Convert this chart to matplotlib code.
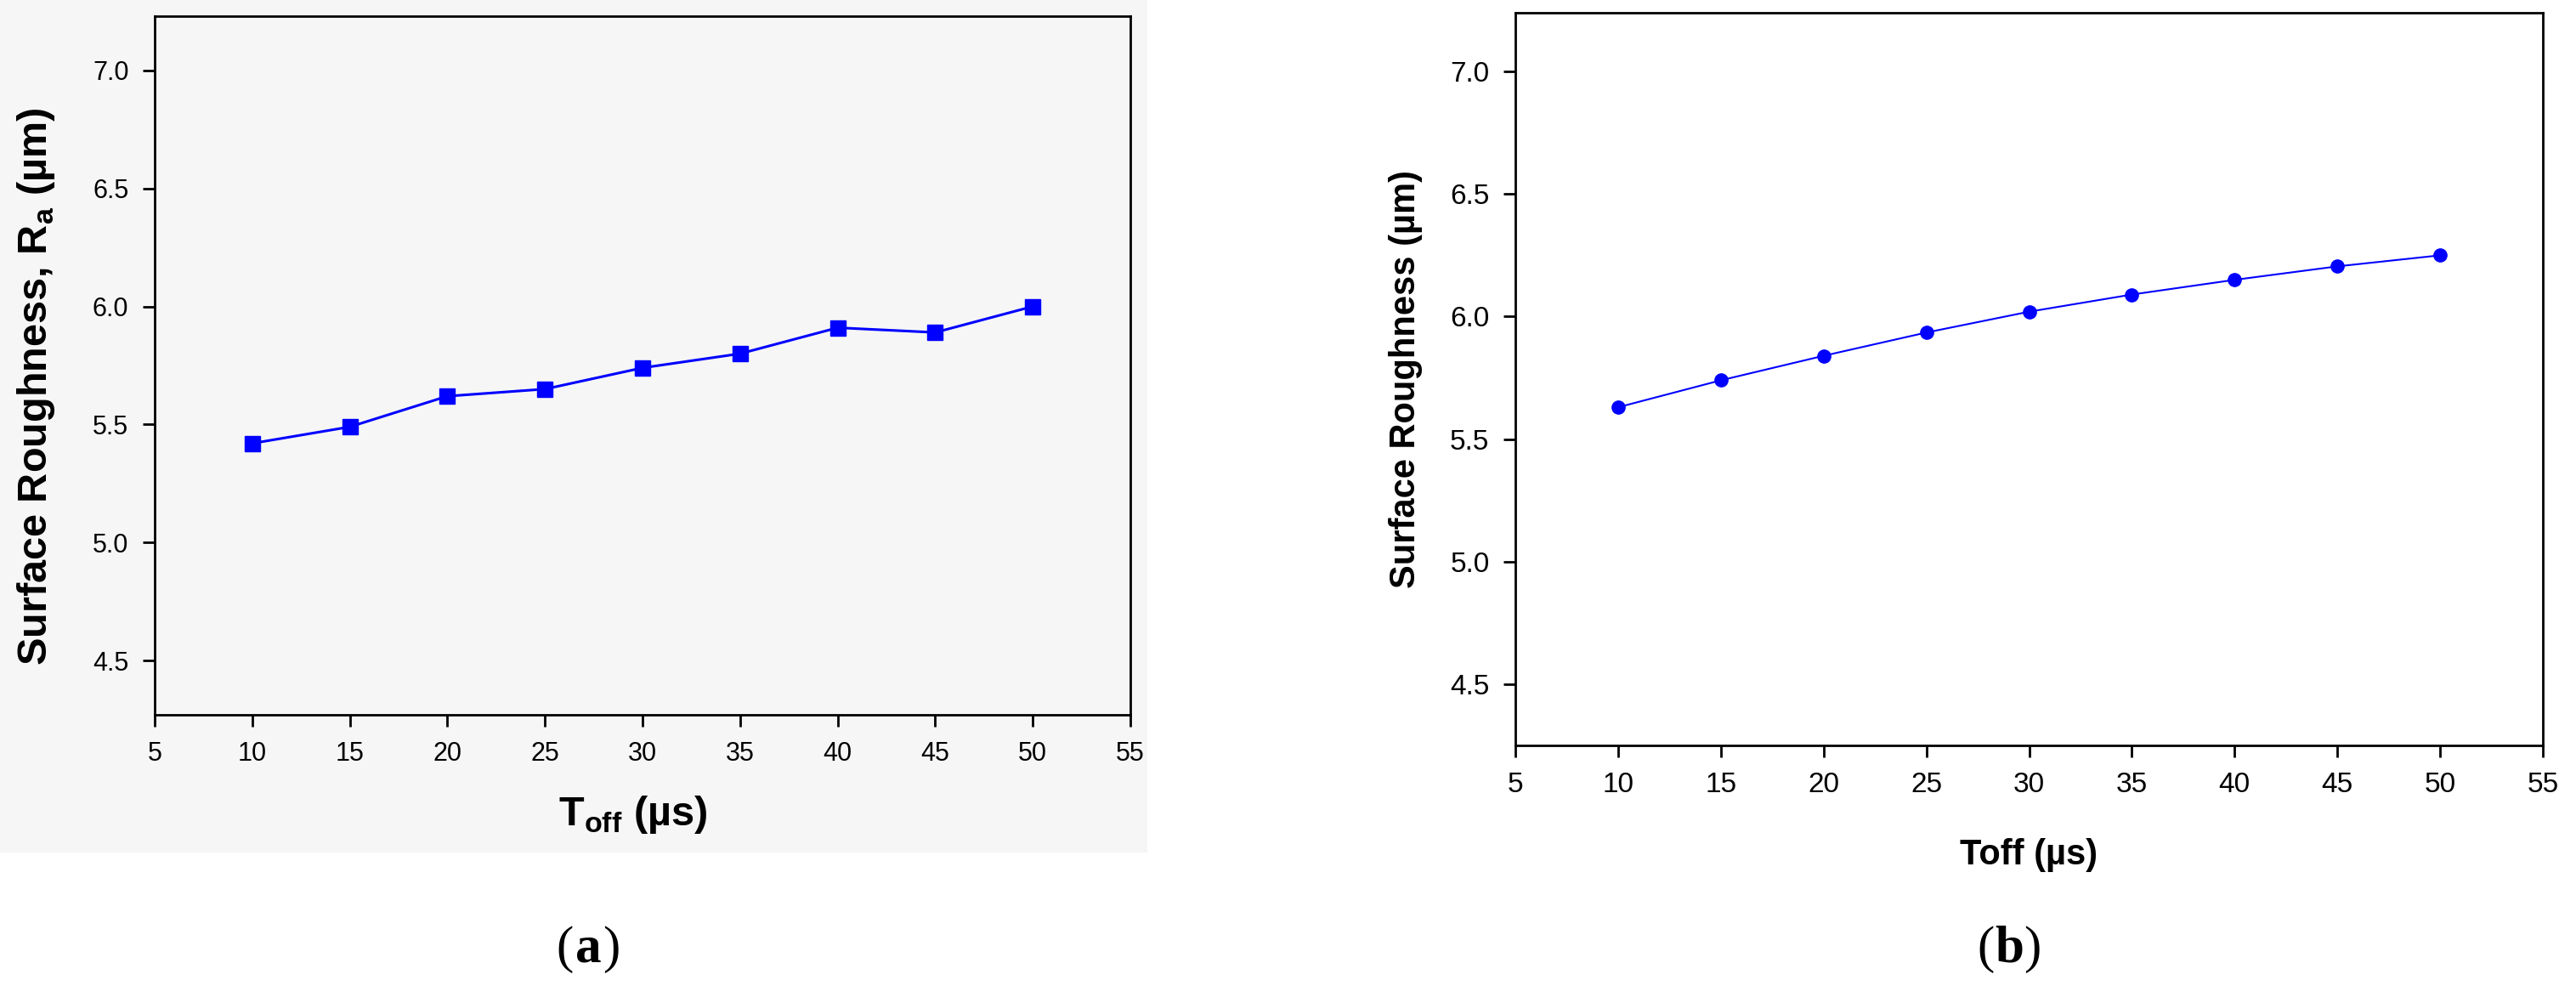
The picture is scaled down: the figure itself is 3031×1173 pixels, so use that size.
# -*- coding: utf-8 -*-
import numpy as np
import matplotlib
matplotlib.use('Agg')
import matplotlib.pyplot as plt

plt.rcParams['mathtext.fontset'] = 'custom'
plt.rcParams['mathtext.bf'] = 'Liberation Sans:bold'
plt.rcParams['mathtext.rm'] = 'Liberation Sans'

# Data.
toff = [10, 15, 20, 25, 30, 35, 40, 45, 50]
ra_measured = [5.42, 5.49, 5.62, 5.65, 5.74, 5.80, 5.91, 5.89, 6.00]
ra_predicted = [5.63, 5.74, 5.84, 5.935, 6.02, 6.09, 6.15, 6.205, 6.25]
xticks = [5, 10, 15, 20, 25, 30, 35, 40, 45, 50, 55]
yticks = [4.5, 5.0, 5.5, 6.0, 6.5, 7.0]

narrow = ['Liberation Sans Narrow', 'Liberation Sans', 'DejaVu Sans']
blue = '#0000ff'
W, H = 3031, 1173

fig = plt.figure(figsize=(W / 100, H / 100), dpi=100)

# Faint grey backdrop behind panel (a), as a background axes.
bg = fig.add_axes([0, 1 - 1003 / H, 1350 / W, 1003 / H], zorder=-5)
bg.set_facecolor('#f6f6f6')
bg.set_xticks([])
bg.set_yticks([])
for s in bg.spines.values():
    s.set_visible(False)

ax_a = fig.add_axes([182 / W, 1 - 841 / H, 1148 / W, 822 / H])
ax_b = fig.add_axes([1783 / W, 1 - 877 / H, 1209 / W, 862 / H])
ax_a.set_facecolor('#f6f6f6')

ax_a.plot(toff, ra_measured, '-', color=blue, lw=2.2, marker='s', ms=13)
ax_b.plot(toff, ra_predicted, '-', color=blue, lw=1.5, marker='o', ms=11)

ax_a.set_ylim(4.27, 7.23)
ax_b.set_ylim(4.25, 7.24)

for ax in (ax_a, ax_b):
    ax.set_xlim(5, 55)
    ax.set_xticks(xticks)
    ax.set_yticks(yticks)
    ax.set_yticklabels([f'{v:.1f}' for v in yticks])
    ax.tick_params(direction='out', length=10, width=2, top=False,
                   right=False, pad=12)
    for s in ax.spines.values():
        s.set_linewidth(2)

for lab in ax_a.get_xticklabels() + ax_a.get_yticklabels():
    lab.set_family(narrow)
    lab.set_fontsize(22)
for lab in ax_b.get_xticklabels() + ax_b.get_yticklabels():
    lab.set_family(narrow)
    lab.set_fontsize(24)

ax_a.set_ylabel(r'Surface Roughness, R$_{\mathbf{a}}$ (µm)', fontsize=35,
                fontweight='bold', family='Liberation Sans')
ax_a.yaxis.set_label_coords((67 - 182) / 1148, 0.47)
ax_a.set_xlabel(r'T$_{\mathbf{off}}$ (µs)', fontsize=35, fontweight='bold',
                family=narrow)
ax_a.xaxis.set_label_coords(0.49, (841 - 934) / 822)

ax_b.set_ylabel('Surface Roughness (µm)', fontsize=30, fontweight='bold',
                family='Liberation Sans')
ax_b.yaxis.set_label_coords((1674 - 1783) / 1209, 0.5)
ax_b.set_xlabel('Toff (µs)', fontsize=30, fontweight='bold',
                family='Liberation Sans')
ax_b.xaxis.set_label_coords(0.5, (877 - 986) / 862)

# Panel captions: plain parentheses round a bold letter.
for x, letter in [(692, 'a'), (2364, 'b')]:
    y = 1 - 1117 / H
    fig.text(x / W, y, letter, fontsize=44, family='Liberation Serif',
             fontweight='bold', ha='center', va='center')
    fig.text((x - 17) / W, y, '(', fontsize=44, family='Liberation Serif',
             ha='right', va='center')
    fig.text((x + 17) / W, y, ')', fontsize=44, family='Liberation Serif',
             ha='left', va='center')

plt.savefig('out.png', dpi=100)
